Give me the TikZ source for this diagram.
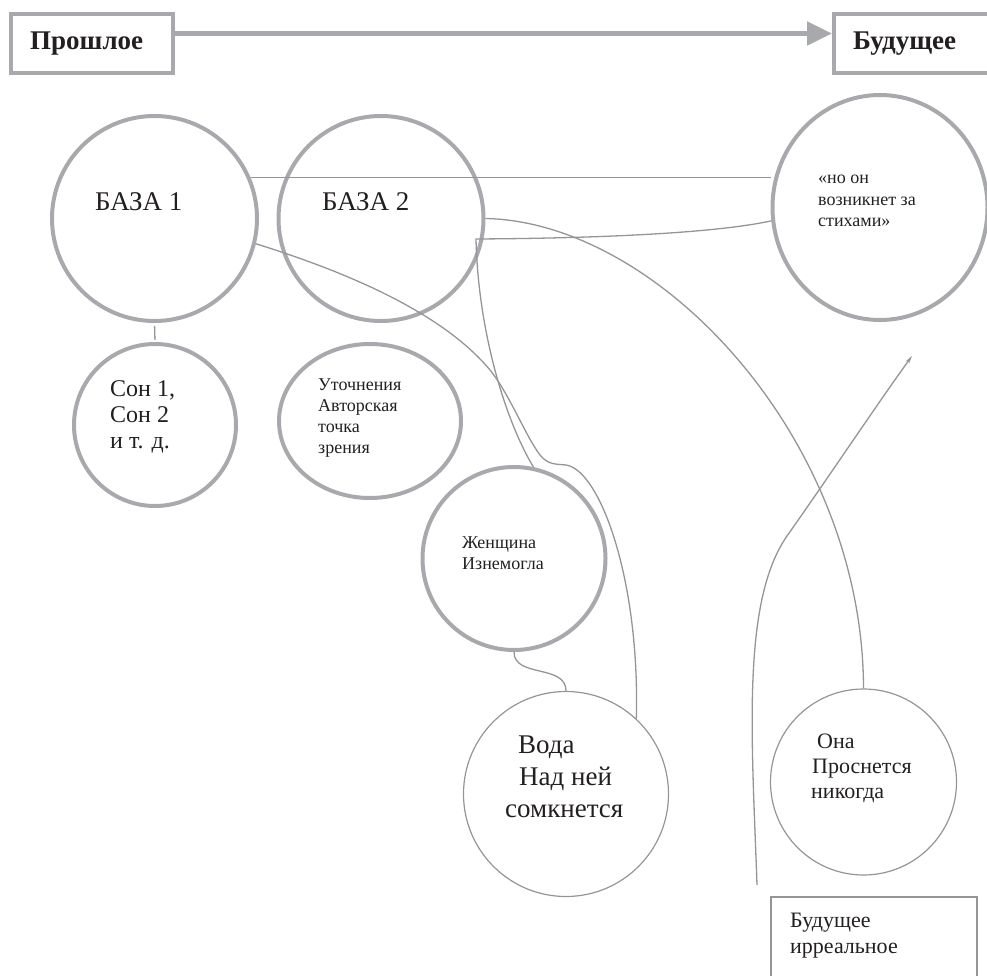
\documentclass[tikz,border=0pt]{standalone}
\usepackage{fontspec}
\setmainfont{Liberation Serif}
\usetikzlibrary{arrows.meta,shapes.geometric}

\definecolor{ringgray}{HTML}{A7A9AC}
\definecolor{linegray}{HTML}{939598}
\definecolor{ink}{HTML}{231F20}

% font size in pt with matching leading
\newcommand{\fsz}[1]{\fontsize{#1}{#1}\selectfont}
% stacked lines; the baseline of the block is that of its first line
\newcommand{\textlines}[2]{\vtop{\baselineskip=#1\relax\lineskiplimit=-50pt\relax\lineskip=0pt\relax #2}}

\tikzset{
  ring/.style={draw=ringgray, line width=4pt, inner sep=0pt},
  thinring/.style={draw=linegray, line width=1.2pt, inner sep=0pt},
  link/.style={draw=linegray, line width=1.3pt},
  txt/.style={anchor=base west, inner sep=0pt, text=ink},
}

\begin{document}
\begin{tikzpicture}[x=1pt, y=-1pt]
\useasboundingbox (0,0) rectangle (987,976);
\clip (0,0) rectangle (987,976);

% time axis
\node[ring, rectangle, minimum width=162pt, minimum height=59pt] (past) at (92,43.5) {};
\node[ring, rectangle, minimum width=158pt, minimum height=59pt] (fut) at (913,43.5) {};
\node[txt, font=\bfseries\fsz{27}] (pastlbl) at (30,50) {Прошлое};
\node[txt, font=\bfseries\fsz{27}] (futlbl) at (853,50) {Будущее};
\draw[draw=ringgray, line width=5pt, -{Triangle[length=25pt,width=23pt]}]
  ([yshift=10pt]past.east) -- ([yshift=10pt]fut.west);

% circles
\node[ring, circle, minimum size=205pt] (b1) at (154.5,218.5) {};
\node[ring, circle, minimum size=205pt] (b2) at (381,218.5) {};
\node[ring, ellipse, minimum width=215pt, minimum height=225pt] (no) at (880,207.5) {};
\node[ring, circle, minimum size=162pt] (son) at (155,425) {};
\node[ring, ellipse, minimum width=182pt, minimum height=154pt] (ut) at (370,421) {};
\node[ring, circle, minimum size=183pt] (zh) at (514,558.5) {};
\node[thinring, circle, minimum size=205pt] (vo) at (566,794) {};
\node[thinring, circle, minimum size=186pt] (ona) at (863.5,782) {};
\node[draw=linegray, line width=1.3pt, rectangle, inner sep=0pt,
      minimum width=206pt, minimum height=103pt] (irr) at (874,948.5) {};

% labels
\node[txt, font=\fsz{27}] (b1lbl) at (95,211) {БАЗА 1};
\node[txt, font=\fsz{27}] (b2lbl) at (322,211) {БАЗА 2};
\node[txt, font=\fsz{18}] (nolbl) at (818,184)
  {\textlines{21.5pt}{\hbox{«но он}\hbox{возникнет за}\hbox{стихами»}}};
\node[txt, font=\fsz{24}] (sonlbl) at (110,396)
  {\textlines{26pt}{\hbox{Сон 1,}\hbox{Сон 2}\hbox{и т. д.}}};
\node[txt, font=\fsz{18}] (utlbl) at (318,390)
  {\textlines{21pt}{\hbox{Уточнения}\hbox{Авторская}\hbox{точка}\hbox{зрения}}};
\node[txt, font=\fsz{18}] (zhlbl) at (462,548)
  {\textlines{21pt}{\hbox{Женщина}\hbox{Изнемогла}}};
\node[txt, font=\fsz{27}] (volbl) at (505,753)
  {\textlines{32pt}{\hbox{\kern13pt Вода}\hbox{\kern14pt Над ней}\hbox{сомкнется}}};
\node[txt, font=\fsz{22}] (onalbl) at (811,748)
  {\textlines{25pt}{\hbox{\kern6pt Она}\hbox{\kern1pt Проснется}\hbox{никогда}}};
\node[txt, font=\fsz{22}] (irrlbl) at (790,927)
  {\textlines{26pt}{\hbox{Будущее}\hbox{ирреальное}}};

% connectors
\coordinate (knee) at (476,239);
\coordinate (fstart) at (757,885);
\coordinate (ftip) at (912,356);

\draw[link] (b1.23) -- (b1.23 -| no.west);
\draw[link] (b2.east) .. controls (660,222) and (863,440) .. (ona.north);
\draw[link] (no.187) .. controls (730,230) and (640,238) .. (knee)
  .. controls (478,330) and (505,420) .. (zh.78);
\draw[link] (b1.-14) .. controls (340,270) and (440,310) .. (490,370)
  .. controls (510,395) and (525,435) .. (540,455)
  .. controls (548,465) and (556,464) .. (566,465)
  .. controls (600,470) and (640,580) .. (vo.47);
\draw[link] (zh.south) .. controls (514,678) and (566,664) .. (vo.north);
\draw[link, shorten <=3pt, shorten >=2pt] (b1.south) -- (son.north);
\draw[link, -{Stealth[length=8pt,width=4pt]}] (fstart)
  .. controls (752,740) and (741,602) .. (787,536)
  .. controls (830,475) and (880,400) .. (ftip);
\end{tikzpicture}
\end{document}
